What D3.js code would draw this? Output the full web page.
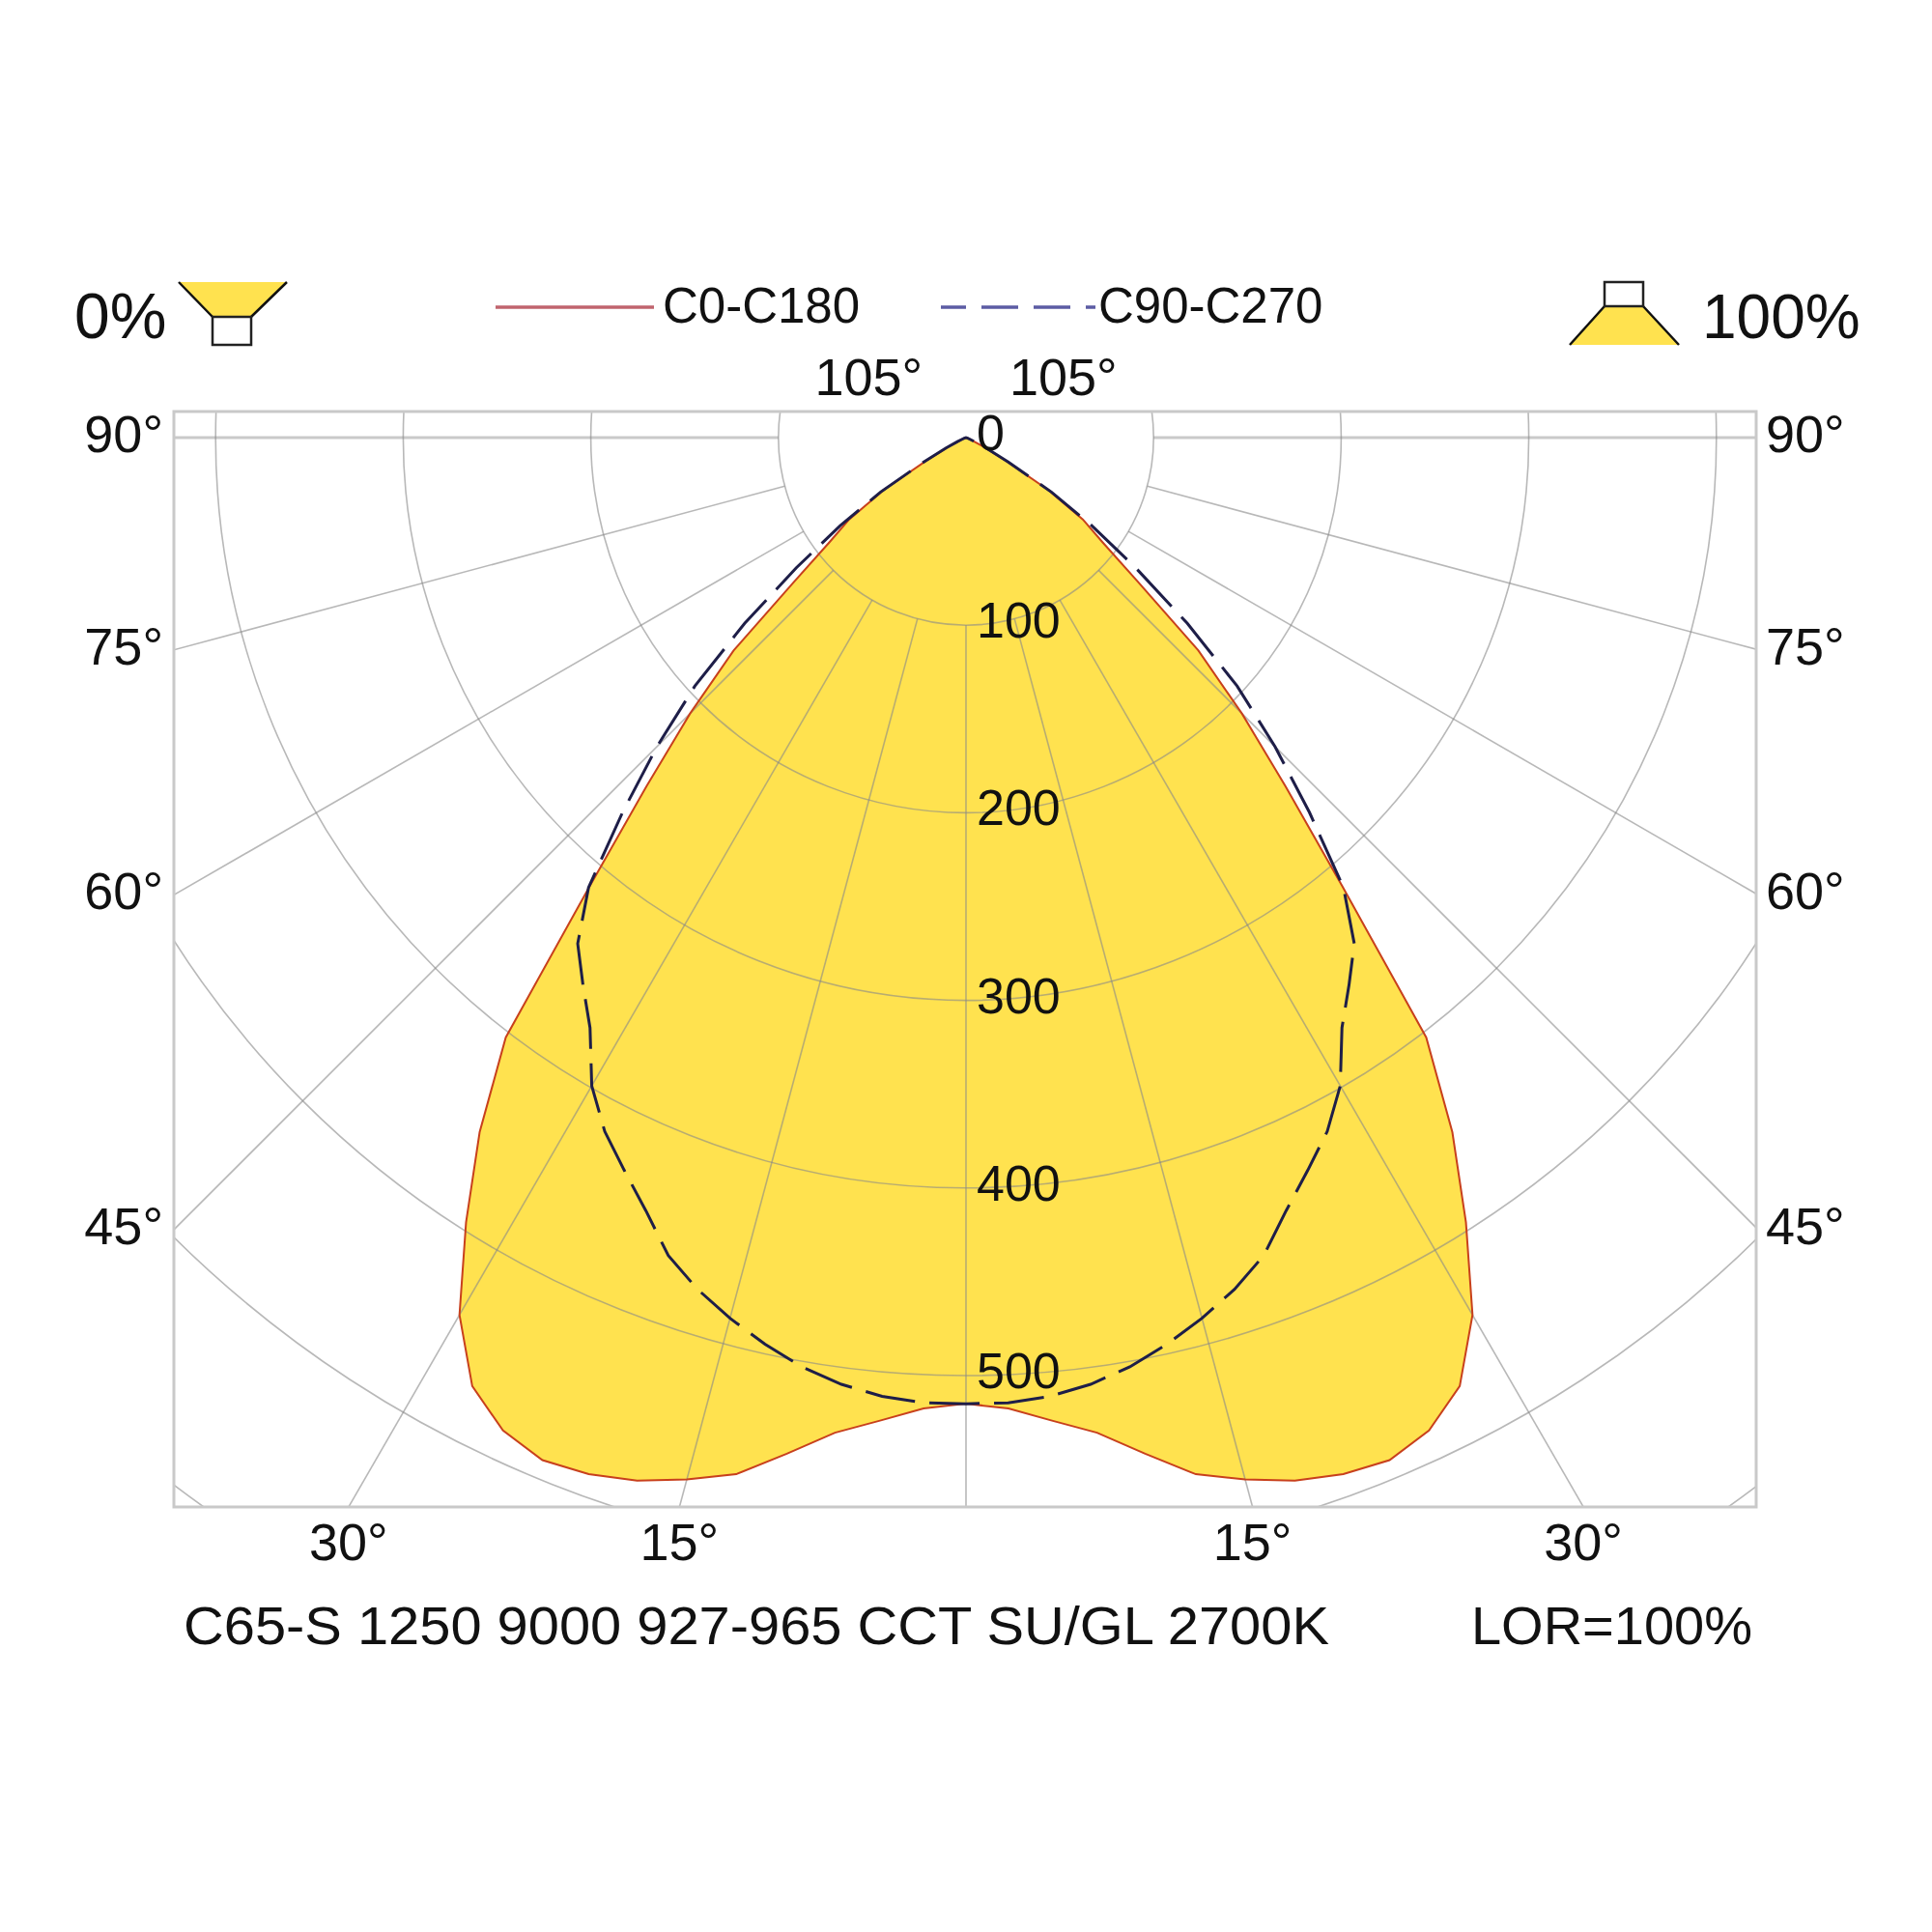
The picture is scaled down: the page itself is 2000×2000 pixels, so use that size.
<html>
<head>
<meta charset="utf-8">
<script src="https://d3js.org/d3.v7.min.js"></script>
<style>
  body { margin: 0; background: #fff; }
  text { font-family: "Liberation Sans", Arial, sans-serif; fill: #111; }
</style>
</head>
<body>
<svg width="2000" height="2000"></svg>
<script>
// gamma angles (deg from nadir) and luminous intensity (cd/klm)
var gammas    = [0, 2.5, 5, 7.5, 10, 12.5, 15, 17.5, 20, 22.5, 25, 27.5, 30, 32.5, 35, 37.5, 40, 42.5, 45,
                 47.5, 50, 52.5, 55, 57.5, 60, 62.5, 65, 67.5, 70, 72.5, 75, 77.5, 80, 82.5, 85, 87.5, 90];
var iC0C180   = [515, 518, 526, 535, 550, 566, 575, 583, 588, 590, 584, 570, 540, 496, 452, 403, 312, 252, 208,
                 168, 120, 92, 76, 52, 24, 10, 4, 2, 1, 0, 0, 0, 0, 0, 0, 0, 0];
var iC90C270  = [515, 515, 513, 509, 503, 495, 486, 476, 464, 446, 431, 417, 399, 373, 356, 340, 313, 271, 233,
                 196, 154, 114, 82, 54, 26, 12, 5, 2, 1, 0, 0, 0, 0, 0, 0, 0, 0];

var ringValues   = [100, 200, 300, 400, 500, 600, 700];
var ringLabels   = [0, 100, 200, 300, 400, 500];
var sideLabels   = [90, 75, 60, 45];
var bottomLabels = [30, 15];
var topLabels    = [105];
var legendNames  = ["C0-C180", "C90-C270"];

var svg = d3.select("svg");
var cx = 1000, cy = 453;
var box = {x0: 180, x1: 1818, y0: 426, y1: 1560};
var r = d3.scaleLinear().domain([0, 100]).range([0, 194.2]);
var rad = Math.PI / 180;

svg.append("rect").attr("width", 2000).attr("height", 2000).attr("fill", "#fff");

svg.append("clipPath").attr("id", "box")
  .append("rect")
  .attr("x", box.x0).attr("y", box.y0)
  .attr("width", box.x1 - box.x0).attr("height", box.y1 - box.y0);

var plot = svg.append("g").attr("clip-path", "url(#box)");
var g = plot.append("g").attr("transform", "translate(" + cx + "," + cy + ")");

// polar curves: left half uses angle pi+gamma, right half pi-gamma
function halfPoints(vals) {
  var left = gammas.map(function(d, i) { return {a: Math.PI + d * rad, v: vals[i]}; }).reverse();
  var right = gammas.map(function(d, i) { return {a: Math.PI - d * rad, v: vals[i]}; });
  return left.concat(right.slice(1));
}
var radial = d3.lineRadial()
  .angle(function(d) { return d.a; })
  .radius(function(d) { return r(d.v); })
  .curve(d3.curveLinearClosed);

g.append("path")
  .attr("d", radial(halfPoints(iC0C180)))
  .attr("fill", "#ffe24f")
  .attr("stroke", "none");

// grid rings
g.selectAll(".ring").data(ringValues).enter().append("circle")
  .attr("r", function(d) { return r(d); })
  .attr("fill", "none")
  .attr("stroke", "#888")
  .attr("stroke-opacity", 0.6)
  .attr("stroke-width", 1.6);

// radial lines every 15 deg, starting at ring 100
var spokes = d3.range(0, 360, 15);
g.selectAll(".spoke").data(spokes).enter().append("line")
  .attr("x1", function(d) { return r(100) * Math.sin(d * rad); })
  .attr("y1", function(d) { return r(100) * Math.cos(d * rad); })
  .attr("x2", function(d) { return 3000 * Math.sin(d * rad); })
  .attr("y2", function(d) { return 3000 * Math.cos(d * rad); })
  .attr("stroke", "#888")
  .attr("stroke-opacity", function(d) { return (d === 90 || d === 270) ? 0.45 : 0.6; })
  .attr("stroke-width", function(d) { return (d === 90 || d === 270) ? 3 : 1.6; });

// intensity curves
g.append("path")
  .attr("d", radial(halfPoints(iC0C180)))
  .attr("fill", "none")
  .attr("stroke", "#c8401c")
  .attr("stroke-width", 2);

g.append("path")
  .attr("d", radial(halfPoints(iC90C270)))
  .attr("fill", "none")
  .attr("stroke", "#1e1e48")
  .attr("stroke-width", 3)
  .attr("stroke-dasharray", "52,15");

// frame
svg.append("rect")
  .attr("x", box.x0).attr("y", box.y0)
  .attr("width", box.x1 - box.x0).attr("height", box.y1 - box.y0)
  .attr("fill", "none")
  .attr("stroke", "#c9c9c9")
  .attr("stroke-width", 3);

// ring labels
svg.selectAll(".rl").data(ringLabels).enter().append("text")
  .attr("x", cx + 11)
  .attr("y", function(d) { return cy + r(d) + 13; })
  .attr("font-size", 52)
  .text(function(d) { return d; });

// angle labels on the frame
var labelSize = 54;
sideLabels.forEach(function(a) {
  var t = (cx - box.x0) / Math.sin(a * rad);
  var y = cy + t * Math.cos(a * rad) + 15;
  svg.append("text").attr("x", box.x0 - 11).attr("y", y)
    .attr("text-anchor", "end").attr("font-size", labelSize).text(a + "°");
  svg.append("text").attr("x", box.x1 + 10).attr("y", y)
    .attr("text-anchor", "start").attr("font-size", labelSize).text(a + "°");
});
bottomLabels.forEach(function(a) {
  var t = (box.y1 - cy) / Math.cos(a * rad);
  var dx = t * Math.sin(a * rad);
  [-1, 1].forEach(function(s) {
    svg.append("text").attr("x", cx + s * dx).attr("y", box.y1 + 55)
      .attr("text-anchor", "middle").attr("font-size", labelSize).text(a + "°");
  });
});
topLabels.forEach(function(a) {
  var t = (cy - box.y0) / -Math.cos(a * rad);
  var dx = t * Math.sin(a * rad);
  [-1, 1].forEach(function(s) {
    svg.append("text").attr("x", cx + s * dx).attr("y", box.y0 - 17)
      .attr("text-anchor", "middle").attr("font-size", labelSize).text(a + "°");
  });
});

// legend
var leg = svg.append("g");
leg.append("line").attr("x1", 513).attr("x2", 677).attr("y1", 318).attr("y2", 318)
  .attr("stroke", "#c0646e").attr("stroke-width", 3.5);
leg.append("text").attr("x", 686).attr("y", 334).attr("font-size", 51).text(legendNames[0]);
leg.append("line").attr("x1", 974).attr("x2", 1134).attr("y1", 318).attr("y2", 318)
  .attr("stroke", "#5c5ca4").attr("stroke-width", 3.5)
  .attr("stroke-dasharray", "38,16").attr("stroke-dashoffset", 12);
leg.append("text").attr("x", 1137).attr("y", 334).attr("font-size", 51).text(legendNames[1]);

// up / down light icons
svg.append("text").attr("x", 77).attr("y", 350).attr("font-size", 66).text("0%");
svg.append("path").attr("d", "M185,292 L297,292 L260,328 L220,328 Z").attr("fill", "#ffe24f");
svg.append("path").attr("d", "M185,292 L220,328 M297,292 L260,328")
  .attr("stroke", "#111").attr("stroke-width", 2.5).attr("fill", "none");
svg.append("rect").attr("x", 220).attr("y", 328).attr("width", 40).attr("height", 29)
  .attr("fill", "#fff").attr("stroke", "#222").attr("stroke-width", 2.5);

svg.append("text").attr("x", 1762).attr("y", 350).attr("font-size", 64).text("100%");
svg.append("path").attr("d", "M1661,317 L1701,317 L1738,357 L1625,357 Z").attr("fill", "#ffe24f");
svg.append("path").attr("d", "M1661,317 L1625,357 M1701,317 L1738,357")
  .attr("stroke", "#111").attr("stroke-width", 2.5).attr("fill", "none");
svg.append("rect").attr("x", 1661).attr("y", 292).attr("width", 40).attr("height", 25)
  .attr("fill", "#fff").attr("stroke", "#222").attr("stroke-width", 2.5);

// footer
svg.append("text").attr("x", 190).attr("y", 1702).attr("font-size", 56)
  .attr("textLength", 1186).attr("lengthAdjust", "spacingAndGlyphs")
  .text("C65-S 1250 9000 927-965 CCT SU/GL 2700K");
svg.append("text").attr("x", 1814).attr("y", 1702).attr("font-size", 56)
  .attr("text-anchor", "end").text("LOR=100%");
</script>
</body>
</html>
